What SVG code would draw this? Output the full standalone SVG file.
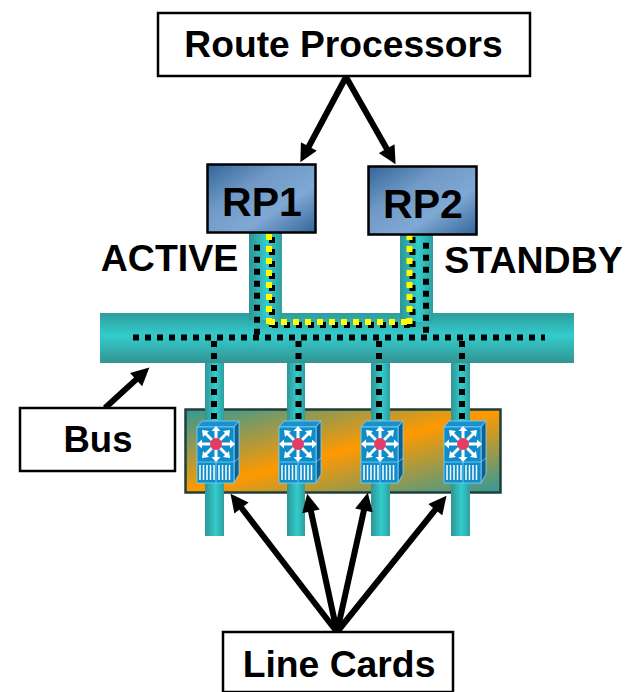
<svg xmlns="http://www.w3.org/2000/svg" width="625" height="692" viewBox="0 0 625 692">
<style>
text{font-family:"Liberation Sans",Arial,sans-serif;font-weight:bold;fill:#000;text-anchor:middle}
.box{fill:#fff;stroke:#000;stroke-width:2.5}
.rp{fill:url(#rpg);stroke:#000;stroke-width:2.5}
.pipe{fill:url(#pipeg)}
.d{fill:none;stroke:#000;stroke-width:6;stroke-dasharray:6 6}
.y{fill:none;stroke:#ff0;stroke-width:6;stroke-dasharray:6 6}
.a{fill:none;stroke:#000;stroke-width:6;marker-end:url(#ah)}
.wa{fill:none;stroke:#fff;stroke-width:1.5}
</style>
<defs>
<linearGradient id="pipeg" x1="0" y1="0" x2="1" y2="0"><stop offset="0" stop-color="#309494"/><stop offset=".55" stop-color="#33cccc"/><stop offset="1" stop-color="#2f9e9e"/></linearGradient>
<linearGradient id="busg" x1="0" y1="0" x2="0" y2="1"><stop offset="0" stop-color="#2f9c9c"/><stop offset=".45" stop-color="#33cccc"/><stop offset="1" stop-color="#339393"/></linearGradient>
<linearGradient id="rpg" x1="0" y1="0" x2="1" y2="1"><stop offset="0" stop-color="#336699"/><stop offset=".35" stop-color="#7099c6"/><stop offset=".65" stop-color="#80a8d4"/><stop offset="1" stop-color="#336699"/></linearGradient>
<linearGradient id="cardg" x1="0" y1="0" x2="1" y2="1"><stop offset="0" stop-color="#339999"/><stop offset=".5" stop-color="#ff9900"/><stop offset="1" stop-color="#339999"/></linearGradient>
<marker id="ah" viewBox="0 0 10 10" refX="1" refY="5" markerWidth="3.200" markerHeight="3" orient="auto"><path d="M0 0L10 5L0 10Z" fill="#000"/></marker>
<symbol id="sw" viewBox="0 0 44 62" width="44" height="62" overflow="visible">
<path d="M1 6L6 0H43L38 6Z" fill="#1b8fd0" stroke="#7fd4f5" stroke-width=".8"/>
<path d="M38 6L43 0V53L38 62Z" fill="#0f5f96" stroke="#7fd4f5" stroke-width=".8"/>
<rect x="1" y="6" width="37" height="56" fill="#0f8cca" stroke="#7fd4f5" stroke-width=".8"/>
<path d="M1 41H38M20 41V62M38 41L43 37" fill="none" stroke="#7fd4f5" stroke-width=".8"/>
<path d="M20 23V8M20 23V39M3 23H37M8 11L32 35M32 11L8 35" stroke="#fff" stroke-width="3" fill="none"/>
<path d="M20 5l-4.500 5h9zM20 41l-4.500-5h9zM1 23l5-4.500v9zM39 23l-5-4.500v9zM6 9l7 1-6 6zM34 9l-7 1 6 6zM6 37l7-1-6-6zM34 37l-7-1 6-6z" fill="#fff"/>
<circle cx="20" cy="23" r="6" fill="#e63c64"/>
<path class="wa" d="M4 44V59M7.500 44V59M11 44V59M14.500 44V59M18 44V59M23 44V59M26.500 44V59M30 44V59M33.500 44V59"/>
</symbol>
</defs>
<g id="card-panel"><rect x="185.500" y="409.500" width="315" height="83" fill="url(#cardg)" stroke="#1f3f3f" stroke-width="2.500"/></g>
<g id="lower-pipes">
<rect class="pipe" x="205" y="360" width="19" height="176"/>
<rect class="pipe" x="287" y="360" width="18" height="176"/>
<rect class="pipe" x="371" y="360" width="19" height="176"/>
<rect class="pipe" x="451" y="360" width="19" height="176"/>
</g>
<g id="bus-bar"><rect x="100" y="313" width="474" height="50" fill="url(#busg)"/></g>
<g id="rp-pipes">
<rect class="pipe" x="249" y="232" width="33" height="88"/>
<rect class="pipe" x="400" y="234" width="33" height="88"/>
</g>
<g id="connectors">
<path class="d" d="M133 337.500H545"/>
<path class="d" d="M257 244.700V335"/>
<path class="d" d="M272 237V327"/>
<path class="d" d="M272 325H415"/>
<path class="d" d="M412.500 237V327"/>
<path class="d" d="M426 242.700V335"/>
<path class="y" d="M269 234V324"/>
<path class="y" d="M269 322H412"/>
<path class="y" d="M409.500 234V324"/>
<path class="d" d="M214 341V424"/>
<path class="d" d="M298.500 341V424"/>
<path class="d" d="M379 341V424"/>
<path class="d" d="M462 341V424"/>
<path class="a" d="M346 77L308 148"/>
<path class="a" d="M346 77L387.600 150.200"/>
<path class="a" d="M105 408L137.400 378.400"/>
<path class="a" d="M337 632L240.400 506.500"/>
<path class="a" d="M337 632L310.600 509.600"/>
<path class="a" d="M337 632L364.300 508.600"/>
<path class="a" d="M337 632L436.400 508.300"/>
</g>
<g id="line-card-1"><use href="#sw" x="196" y="421"/></g>
<g id="line-card-2"><use href="#sw" x="278" y="421"/></g>
<g id="line-card-3"><use href="#sw" x="360" y="421"/></g>
<g id="line-card-4"><use href="#sw" x="443" y="421"/></g>
<g id="route-processors"><rect class="box" x="158" y="13" width="372" height="63"/><text x="343.500" y="57" font-size="37.200">Route Processors</text></g>
<g id="rp1"><rect class="rp" x="207.500" y="164.500" width="108" height="68"/><text x="262" y="216" font-size="41">RP1</text></g>
<g id="rp2"><rect class="rp" x="368.500" y="166.500" width="108" height="68"/><text x="423" y="218" font-size="41">RP2</text></g>
<g id="active"><text x="169.500" y="271" font-size="37.500">ACTIVE</text></g>
<g id="standby"><text x="533.500" y="273" font-size="37.500">STANDBY</text></g>
<g id="bus"><rect class="box" x="20" y="408" width="155" height="63"/><text x="98" y="452" font-size="36.500">Bus</text></g>
<g id="line-cards"><rect class="box" x="223" y="632" width="230" height="60"/><text x="339" y="677" font-size="37.300">Line Cards</text></g>
</svg>
